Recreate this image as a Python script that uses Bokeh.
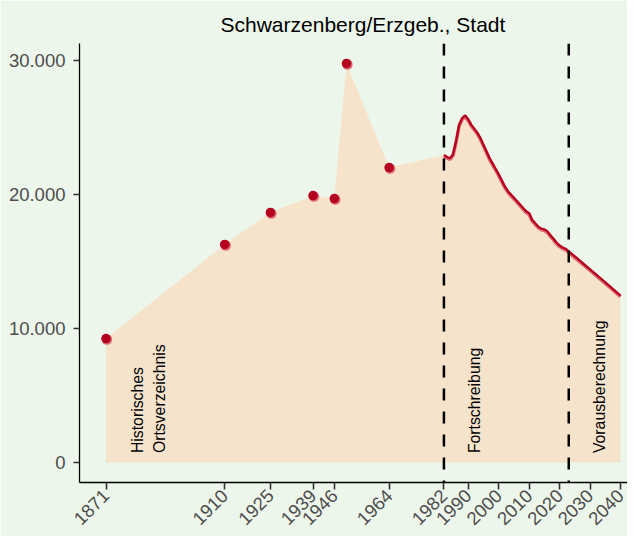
from math import pi
from bokeh.plotting import figure
from bokeh.models import Range1d, FixedTicker, Span
from bokeh.core.properties import value
from bokeh.embed import file_html
from bokeh.resources import INLINE

title_text = "Schwarzenberg/Erzgeb., Stadt"

hist_years = [1871, 1910, 1925, 1939, 1946, 1950, 1964]
hist_values = [9250, 16270, 18660, 19920, 19700, 29780, 22010]

fort_years = list(range(1982, 2023))
fort_values = [22950, 22800, 22700, 23000, 24000, 25200, 25700, 25900, 25600, 25200,
               24900, 24600, 24200, 23700, 23200, 22700, 22300, 21900, 21500, 21050,
               20600, 20250, 20000, 19750, 19500, 19250, 19000, 18750, 18600, 18100,
               17850, 17600, 17450, 17400, 17250, 16950, 16700, 16400, 16200, 16050,
               15950]

proj_years = [2023, 2025, 2030, 2035, 2040]
proj_values = [15750, 15380, 14420, 13450, 12460]

break_years = [1982, 2023]

x_ticks = [1871, 1910, 1925, 1939, 1946, 1964, 1982, 1990, 2000, 2010, 2020, 2030, 2040]
y_ticks = [0, 10000, 20000, 30000]
y_tick_labels = ["0", "10.000", "20.000", "30.000"]

section_labels = ["Historisches\nOrtsverzeichnis", "Fortschreibung", "Vorausberechnung"]

# layout constants
section_x = [1885, 1992, 2033]
section_y = 700
BG = "#EDF6EB"
FILL = "#F6E3CC"
DARK = "#B5001F"
PINK = "#DE6A75"
FONT = "Liberation Sans"

line_years = fort_years + proj_years
line_values = fort_values + proj_values
area_years = hist_years + line_years
area_values = hist_values + line_values

p = figure(width=627, height=536, output_backend="svg", toolbar_location=None,
           x_range=Range1d(1862.29, 2042.3), y_range=Range1d(-1493, 31269),
           min_border_left=79, min_border_right=0, min_border_top=43, min_border_bottom=54,
           background_fill_color=BG, border_fill_color=BG, outline_line_color=None)

p.title.text = title_text
p.title.align = "left"
p.title.offset = 141
p.title.text_font = FONT
p.title.text_font_size = "21px"
p.title.text_font_style = "normal"
p.title.text_color = "black"
p.title.standoff = 15

p.xgrid.visible = False
p.ygrid.visible = False

p.varea(x=area_years, y1=0, y2=area_values, fill_color=FILL)

px_y = 74.6  # value units per pixel (for the light shadow offset)
p.line(x=line_years, y=[v - 1.2 * px_y for v in line_values], line_color=PINK, line_width=3.5)
p.line(x=line_years, y=line_values, line_color=DARK, line_width=2.3)

p.scatter(x=[y + 0.3 for y in hist_years], y=[v - px_y for v in hist_values],
          size=10.5, fill_color=PINK, line_color=None)
p.scatter(x=hist_years, y=hist_values, size=9.5, fill_color=DARK, line_color=None)

for b in break_years:
    p.add_layout(Span(location=b, dimension="height", line_color="black",
                      line_width=2.5, line_dash="12 11"))

p.text(x=section_x, y=[section_y] * len(section_x), text=section_labels, angle=pi / 2,
       text_align="left", text_baseline="middle", text_font=value(FONT),
       text_font_size="15.8px", text_line_height=1.3, text_color="black")

p.xaxis.ticker = FixedTicker(ticks=x_ticks)
p.xaxis.major_label_orientation = pi / 4
p.yaxis.ticker = FixedTicker(ticks=y_ticks)
p.yaxis.major_label_overrides = {t: l for t, l in zip(y_ticks, y_tick_labels)}

for ax in (p.xaxis[0], p.yaxis[0]):
    ax.axis_line_color = "black"
    ax.axis_line_width = 1.3
    ax.major_tick_line_color = "#333333"
    ax.major_tick_line_width = 1.6
    ax.minor_tick_line_color = None
    ax.major_tick_in = 0
    ax.major_label_text_font = FONT
    ax.major_label_text_font_size = "18.5px"
    ax.major_label_text_color = "#4D4D4D"

p.xaxis.major_tick_out = 7
p.xaxis.major_label_standoff = 3
p.yaxis.major_tick_out = 6
p.yaxis.major_label_standoff = 8

open("out.html", "w").write(file_html(p, INLINE))
